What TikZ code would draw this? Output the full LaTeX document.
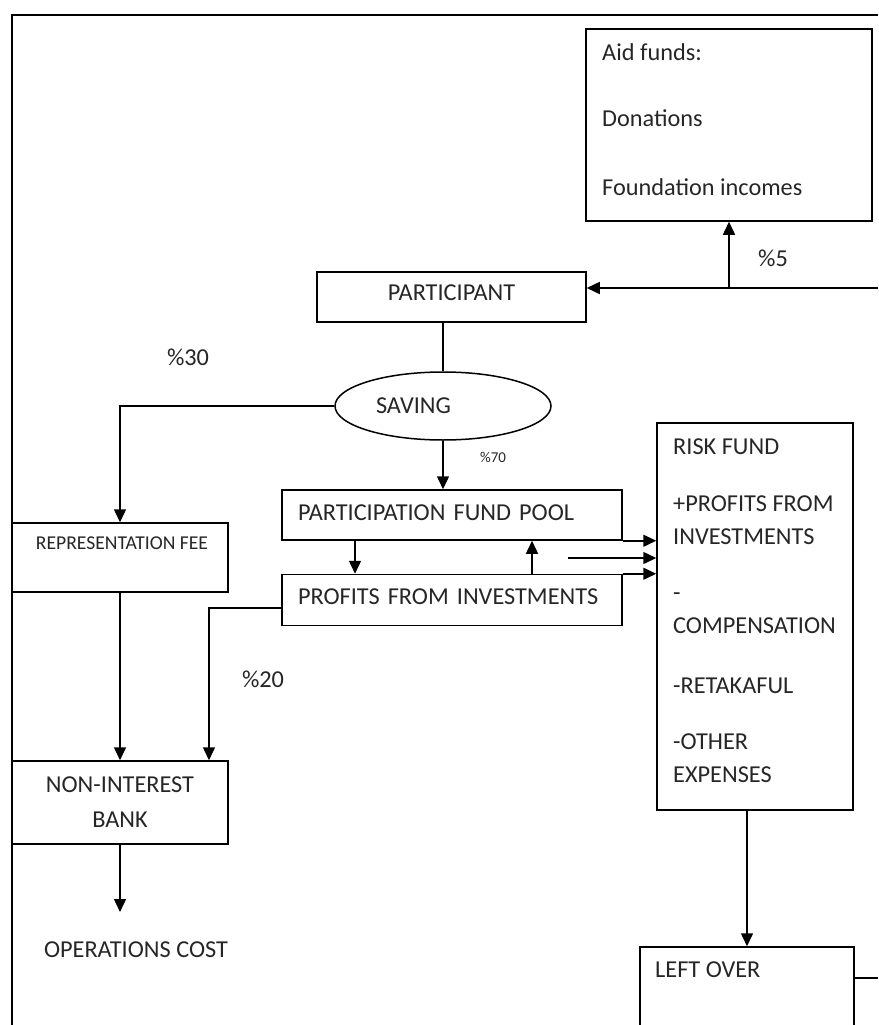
\documentclass[tikz,border=0pt]{standalone}
\usepackage{fontspec}
\setmainfont{Carlito}
\usetikzlibrary{arrows.meta,shapes.geometric}
\begin{document}
\begin{tikzpicture}[x=1pt,y=-1pt,
  every node/.style={font=\fontsize{24.3}{33}\selectfont, text=black!85},
  box/.style={draw=black, line width=1.5pt, inner sep=0pt},
  txt/.style={inner sep=0pt, align=left},
  link/.style={line width=1.5pt},
  arr/.style={line width=1.5pt, -{Triangle[length=13pt,width=12pt]}},
  pct/.style={inner sep=0pt}]
\useasboundingbox (0,0) rectangle (878,1025);

% outer frame (runs off the right and bottom edges)
\draw[line width=1.8pt] (878,15) -- (12,15) -- (12,1030);

% aid funds
\node[box, minimum width=286pt, minimum height=192pt] (aid) at (729,125) {};
\node[txt, anchor=north west] (aidtxt) at (602,43)
  {Aid funds:\\[33pt] Donations\\[36pt] Foundation incomes};

% participant and saving
\node[box, minimum width=269pt, minimum height=50pt, text depth=8pt] (part) at (451.5,297) {PARTICIPANT};
\node[draw=black, ellipse, line width=1.5pt, minimum width=216pt, minimum height=68pt,
  inner sep=0pt] (saving) at (443,406) {\makebox[134pt][l]{SAVING}};

% fund pool and profits
\node[box, minimum width=340pt, minimum height=50pt, text width=308pt, align=left,
  inner xsep=16pt, text depth=4pt] (pfp) at (452,515) {PARTICIPATION FUND POOL};
\node[box, minimum width=340pt, minimum height=51pt, text width=308pt, align=left,
  inner xsep=16pt, text depth=6pt] (pfi) at (452,600) {PROFITS FROM INVESTMENTS};

% representation fee and bank
\node[box, minimum width=216pt, minimum height=69pt] (repfee) at (120,557.5) {};
\node[inner sep=0pt, font=\fontsize{19.6}{23}\selectfont] (repfeetxt) at (122,543)
  {REPRESENTATION FEE};
\node[box, minimum width=216pt, minimum height=83pt, align=center] (nib) at (120,802.5)
  {NON-INTEREST\\[2pt]BANK};

% risk fund
\node[box, minimum width=196pt, minimum height=387pt] (risk) at (755,616.5) {};
\node[txt, anchor=north west] (risktxt) at (673,438.5)
  {RISK FUND\\[24pt] +PROFITS FROM\\ INVESTMENTS\\[23pt] -\\ COMPENSATION\\[27pt]
   -RETAKAFUL\\[23pt] -OTHER\\ EXPENSES};

% left over (continues below the page)
\node[box, minimum width=214pt, minimum height=90pt] (left) at (747,992) {};
\node[txt, anchor=west] (lefttxt) at (655,970) {LEFT OVER};

% connectors
\coordinate (in5) at (878,288);
\coordinate (split5) at (729,288);
\draw[arr] (in5) -- (in5 -| part.east);
\draw[arr] (split5) -- (aid.south);
\draw[link] (saving.north |- part.south) -- (saving.north);
\draw[arr] (saving.west) -| (repfee.north);
\draw[arr] (saving.south) -- (saving.south |- pfp.north);
\draw[arr] ([xshift=-97pt]pfp.south) -- ([xshift=-97pt]pfi.north);
\draw[arr] ([xshift=80pt]pfi.north) -- ([xshift=80pt]pfp.south);
\draw[arr] (pfp.south east) -- (pfp.south east -| risk.west);
\coordinate (mid) at (568,558);
\draw[arr] (mid) -- (mid -| risk.west);
\draw[arr] (pfi.north east) -- (pfi.north east -| risk.west);
\draw[arr] (repfee.south) -- (nib.north);
\coordinate (c20) at (209,608);
\draw[arr] (pfi.west |- c20) -- (c20) -- (c20 |- nib.north);
\coordinate (opend) at (120,912);
\draw[arr] (nib.south) -- (opend);
\draw[arr] (left.north |- risk.south) -- (left.north);
\coordinate (outL) at (878,978);
\draw[link] (left.east |- outL) -- (outL);

% percentages and free labels
\node[pct] (p5) at (773,258) {\%5};
\node[pct] (p30) at (188,357) {\%30};
\node[pct, font=\fontsize{15}{18}\selectfont] (p70) at (493,457) {\%70};
\node[pct] (p20) at (263,679) {\%20};
\node[pct] (opcost) at (136,950) {OPERATIONS COST};
\end{tikzpicture}
\end{document}
